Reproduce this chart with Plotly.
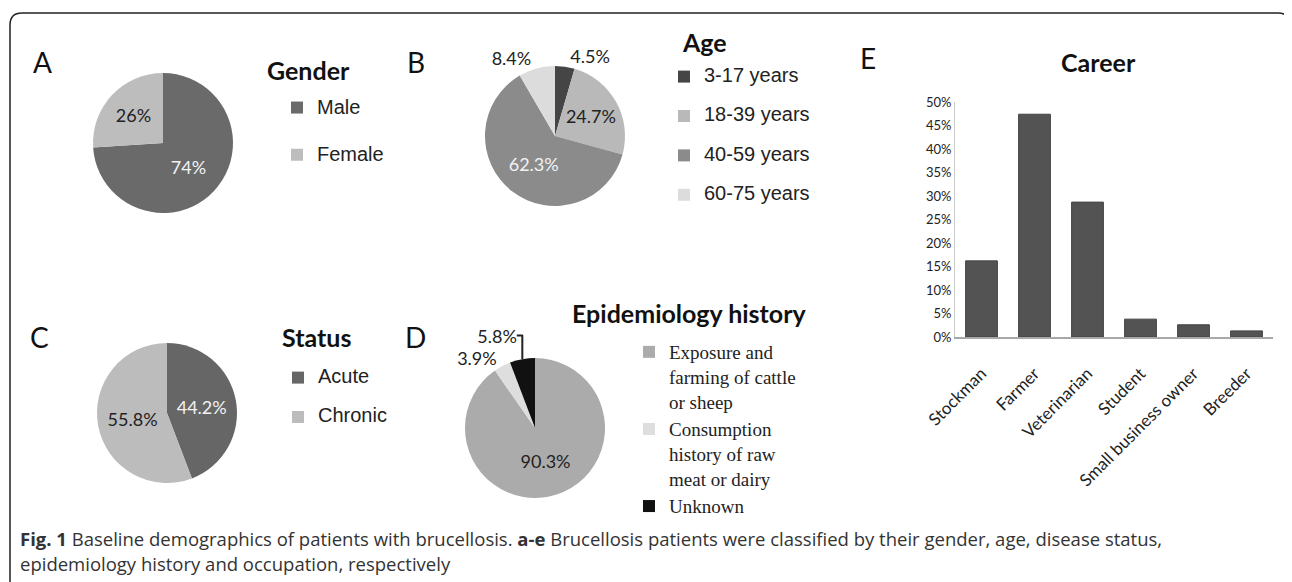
import plotly.graph_objects as go

# the page body adds an 8px margin; reference pixel coords are mapped accordingly
OFF = 8
FW, FH = 1292 - OFF, 582 - OFF

# ---- data ----
gender_labels = ["Male", "Female"]
gender_values = [74, 26]
gender_colors = ["#6a6a6a", "#bdbdbd"]

age_labels = ["3-17 years", "18-39 years", "40-59 years", "60-75 years"]
age_values = [4.5, 24.7, 62.3, 8.4]
age_colors = ["#454545", "#b9b9b9", "#8b8b8b", "#dcdcdc"]

status_labels = ["Acute", "Chronic"]
status_values = [44.2, 55.8]
status_colors = ["#666666", "#bcbcbc"]

epi_labels = ["Exposure and<br>farming of cattle<br>or sheep",
              "Consumption<br>history of raw<br>meat or dairy",
              "Unknown"]
epi_values = [90.3, 3.9, 5.8]
epi_colors = ["#ababab", "#dedede", "#111111"]

career_labels = ["Stockman", "Farmer", "Veterinarian", "Student",
                 "Small business owner", "Breeder"]
career_values = [16.2, 47.4, 28.7, 3.8, 2.6, 1.3]
career_ticks = [0, 5, 10, 15, 20, 25, 30, 35, 40, 45, 50]
career_tick_labels = ["0%", "5%", "10%", "15%", "20%", "25%",
                      "30%", "35%", "40%", "45%", "50%"]

CAL = "Lato, 'Open Sans', sans-serif"
ARIAL = "'Liberation Sans', Arial, sans-serif"
SERIF = "'Liberation Serif', 'Times New Roman', serif"


def px(x):
    return (x - OFF) / FW


def py(y):
    return 1 - (y - OFF) / FH


def dom(cx, cy, d):
    return dict(x=[px(cx - d / 2), px(cx + d / 2)],
                y=[py(cy + d / 2), py(cy - d / 2)])


def spaced(labels, size):
    return ["<span style='font-size:%dpx'>%s</span><br> " % (size, l) for l in labels]


fig = go.Figure()

pie_common = dict(sort=False, direction="clockwise", rotation=0,
                  texttemplate="%{value}%", hoverinfo="label+value",
                  marker_line_width=0, insidetextorientation="horizontal")

fig.add_trace(go.Pie(
    labels=spaced(gender_labels, 20), values=gender_values,
    marker_colors=gender_colors, domain=dom(163, 143, 140),
    textposition="inside",
    textfont=dict(family=CAL, size=18, color=["#f2f2f2", "#222222"]),
    legend="legend", **pie_common))

fig.add_trace(go.Pie(
    labels=spaced(age_labels, 20), values=age_values,
    marker_colors=age_colors, domain=dom(555, 136, 140),
    textposition=["outside", "inside", "inside", "outside"],
    textfont=dict(family=CAL, size=18, color=["#222222", "#222222", "#f2f2f2", "#222222"]),
    legend="legend2", **pie_common))

fig.add_trace(go.Pie(
    labels=spaced(status_labels, 20), values=status_values,
    marker_colors=status_colors, domain=dom(167, 413, 140),
    textposition="inside",
    textfont=dict(family=CAL, size=18, color=["#f2f2f2", "#222222"]),
    legend="legend3", **pie_common))

fig.add_trace(go.Pie(
    labels=epi_labels, values=epi_values,
    marker_colors=epi_colors, domain=dom(535, 428, 140),
    textposition=["inside", "outside", "outside"],
    textfont=dict(family=CAL, size=18, color="#222222"),
    legend="legend4", **pie_common))

fig.add_trace(go.Bar(
    x=career_labels, y=career_values, marker_color="#535353",
    marker_line=dict(color="#444444", width=1), showlegend=False,
    xaxis="x", yaxis="y"))

leg_common = dict(xanchor="left", yanchor="top", bgcolor="rgba(0,0,0,0)",
                  borderwidth=0, valign="top", traceorder="normal")

annotations = []


def txt(x, y, s, size, family=CAL, color="#111111", xanchor="left"):
    annotations.append(dict(x=px(x), y=py(y), xref="paper", yref="paper",
                            text=s, showarrow=False, xanchor=xanchor, yanchor="middle",
                            font=dict(family=family, size=size, color=color)))


for letter, x, y in [("A", 31, 62), ("B", 405, 62), ("C", 28, 337),
                     ("D", 403, 337), ("E", 858, 58)]:
    txt(x, y, letter, 28)

txt(265, 70, "<b>Gender</b>", 25)
txt(680, 42, "<b>Age</b>", 25)
txt(280, 337, "<b>Status</b>", 25)
txt(570, 313, "<b>Epidemiology history</b>", 25)
txt(1098, 62, "<b>Career</b>", 25, xanchor="center")

txt(18, 538, "<b>Fig. 1</b> Baseline demographics of patients with brucellosis. "
    "<b>a-e</b> Brucellosis patients were classified by their gender, age, disease status,",
    18.5, family="'Open Sans', sans-serif", color="#333333")
txt(18, 563, "epidemiology history and occupation, respectively",
    18.5, family="'Open Sans', sans-serif", color="#333333")

# rounded border
x0, x1 = px(10), px(1290)
yt, yb = py(13), -0.1
rx, ry = 12 / FW, 12 / FH
border = (f"M{x0},{yb} L{x0},{yt - ry} Q{x0},{yt} {x0 + rx},{yt} "
          f"L{x1 - rx},{yt} Q{x1},{yt} {x1},{yt - ry} L{x1},{yb}")

fig.update_layout(
    width=FW, height=FH, margin=dict(l=0, r=0, t=0, b=0, autoexpand=False),
    paper_bgcolor="white", plot_bgcolor="white",
    legend=dict(x=px(277), y=py(90), font=dict(family=ARIAL, size=17, color="#222"), **leg_common),
    legend2=dict(x=px(664), y=py(61), font=dict(family=ARIAL, size=14, color="#222"), **leg_common),
    legend3=dict(x=px(278), y=py(362), font=dict(family=ARIAL, size=14, color="#222"), **leg_common),
    legend4=dict(x=px(629), y=py(333), font=dict(family=SERIF, size=19, color="#222"), **leg_common),
    xaxis=dict(domain=[px(955), px(1273)], showline=True, linecolor="#a8a8a8", linewidth=2,
               showgrid=False, zeroline=False, tickangle=-45, ticks="", automargin=False,
               ticklabelstandoff=18,
               tickfont=dict(family=CAL, size=17, color="#222")),
    yaxis=dict(domain=[py(337), py(102)], range=[0, 50], tickmode="array",
               tickvals=career_ticks, ticktext=career_tick_labels,
               showline=True, linecolor="#cccccc", linewidth=1, automargin=False,
               showgrid=False, zeroline=False, ticks="",
               tickfont=dict(family=CAL, size=13, color="#222")),
    bargap=0.4,
    annotations=annotations,
    shapes=[dict(type="path", path=border, xref="paper", yref="paper",
                 line=dict(color="#222222", width=1.5))],
)

fig.write_html("out.html")
